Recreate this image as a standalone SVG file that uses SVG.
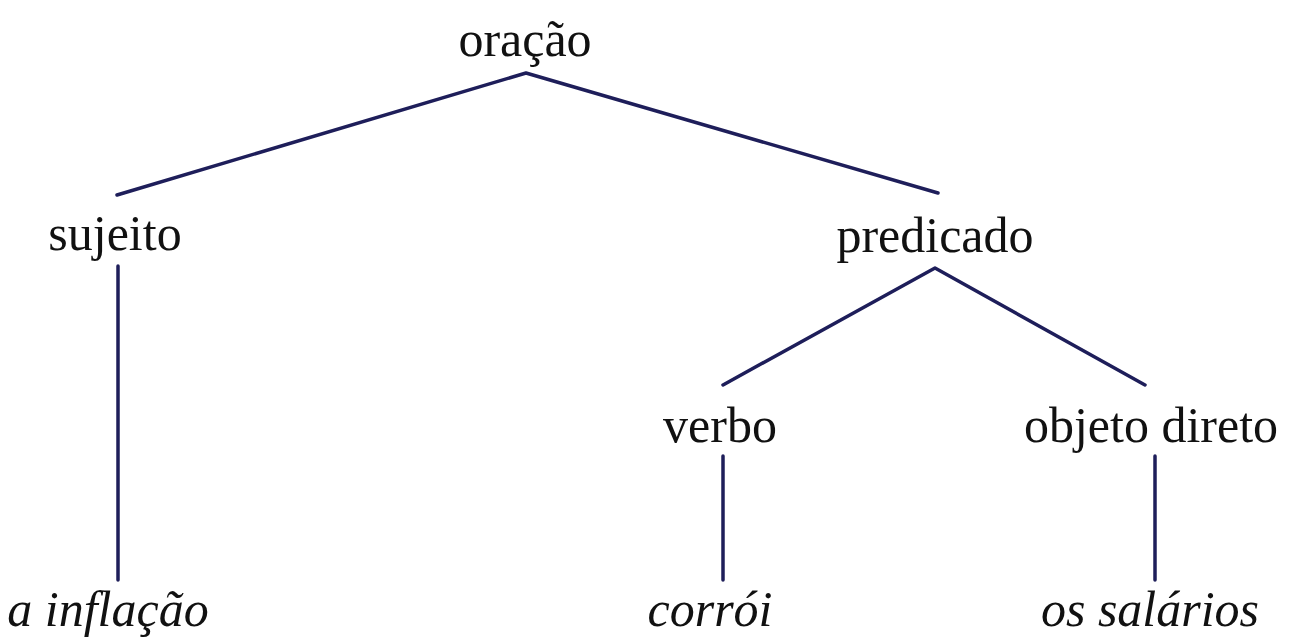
<svg xmlns="http://www.w3.org/2000/svg" width="1295" height="641" viewBox="0 0 1295 641">
<style>
.lbl{font-family:"Liberation Serif","DejaVu Serif",serif;font-size:50px;fill:#111;text-anchor:middle}
.it{font-style:italic}
.edge{stroke:#1e1e5a;stroke-width:3.5;fill:none;stroke-linecap:round;stroke-linejoin:round}
</style>
<rect width="1295" height="641" fill="#fff"/>
<g id="connectors">
<polyline class="edge" points="117,195 526,73 938,193"/>
<polyline class="edge" points="723,385 935,268 1145,385"/>
<line class="edge" x1="118" y1="266" x2="118" y2="580"/>
<line class="edge" x1="723" y1="456" x2="723" y2="580"/>
<line class="edge" x1="1155" y1="456" x2="1155" y2="580"/>
</g>
<g id="n-oracao"><text class="lbl" x="525" y="56">oração</text></g>
<g id="n-sujeito"><text class="lbl" x="115" y="250">sujeito</text></g>
<g id="n-predicado"><text class="lbl" x="935" y="252">predicado</text></g>
<g id="n-verbo"><text class="lbl" x="720" y="442">verbo</text></g>
<g id="n-objeto"><text class="lbl" x="1151" y="442">objeto direto</text></g>
<g id="n-inflacao"><text class="lbl it" x="108" y="626">a inflação</text></g>
<g id="n-corroi"><text class="lbl it" x="710" y="626">corrói</text></g>
<g id="n-salarios"><text class="lbl it" x="1150" y="626">os salários</text></g>
</svg>
